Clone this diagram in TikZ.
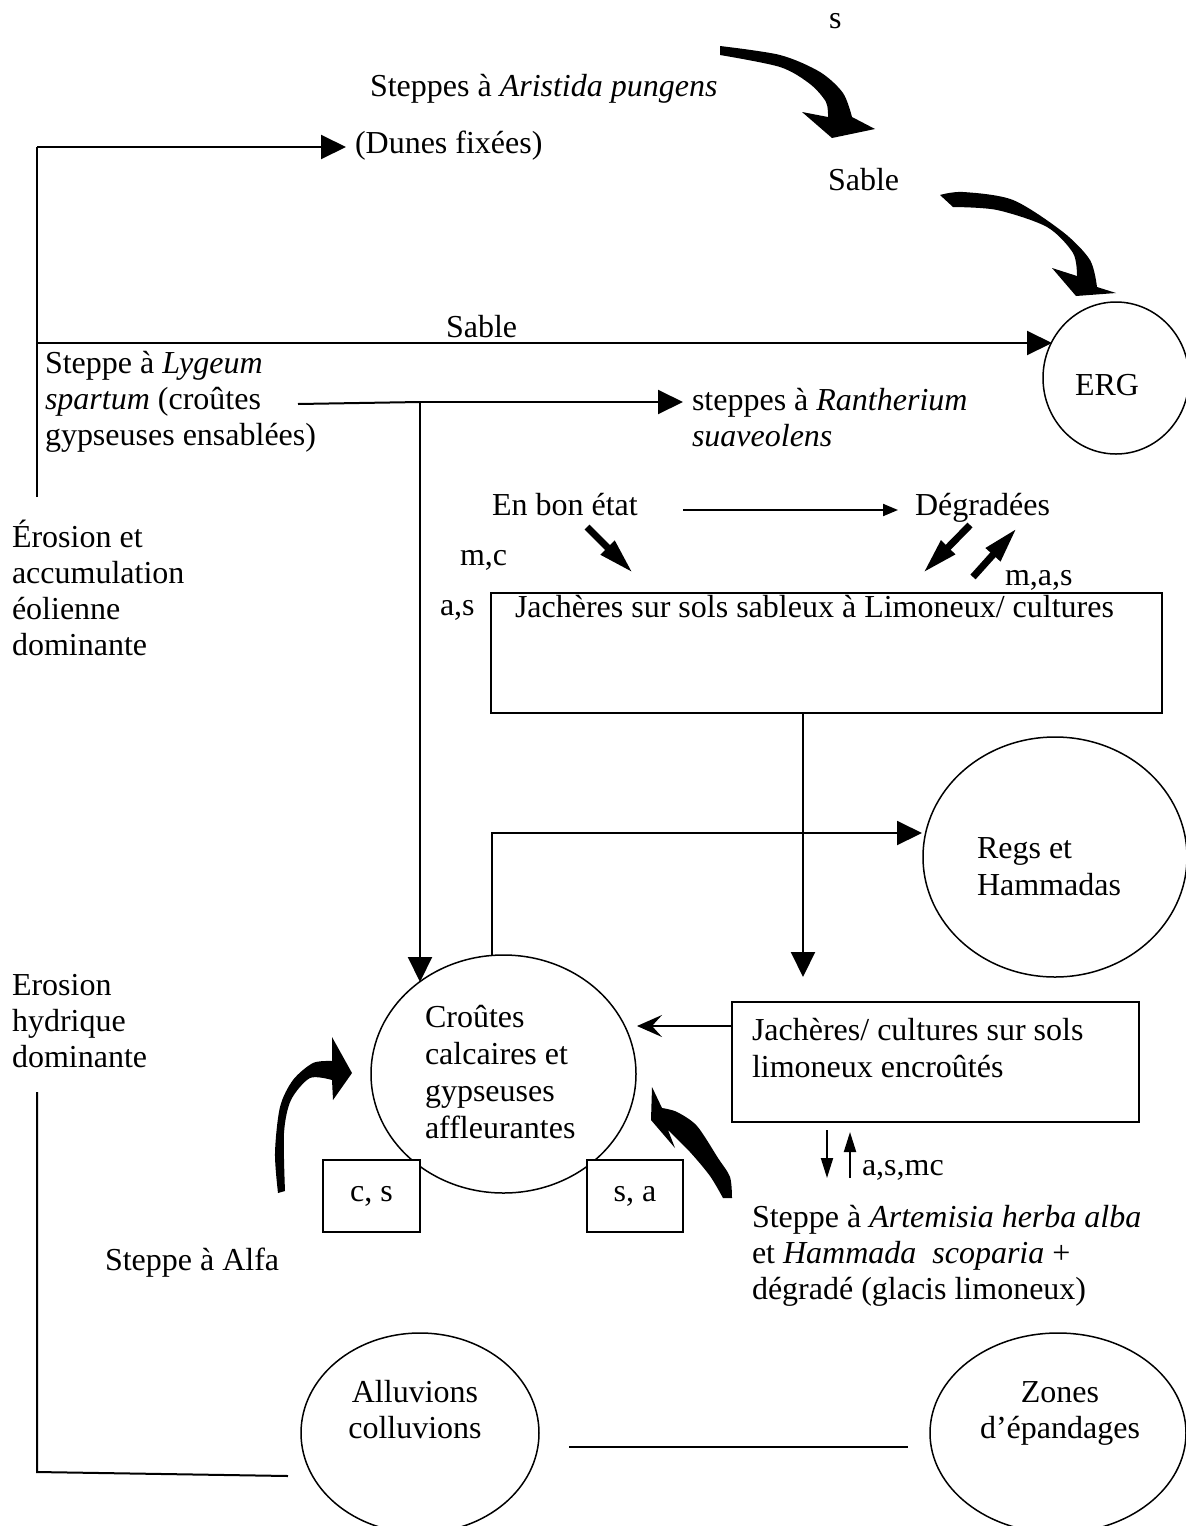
\documentclass[tikz,border=0pt]{standalone}
\usepackage{fontspec}
\setmainfont{Liberation Serif}
\usetikzlibrary{arrows.meta,shapes.geometric}
\begin{document}
\begin{tikzpicture}[x=0.5pt,y=-0.5pt,
  txt/.style={inner sep=0pt, outer sep=0pt, anchor=base west, align=left, font=\fontsize{16pt}{18pt}\selectfont},
  txtb/.style={txt, font=\fontsize{16pt}{18.5pt}\selectfont},
  ctxt/.style={txt, anchor=base, align=center, font=\fontsize{16pt}{18pt}\selectfont},
  conn/.style={line width=1pt, -{Triangle[length=12.5pt,width=12pt]}},
  lineonly/.style={line width=1pt},
  outl/.style={draw, line width=0.75pt, inner sep=0pt, outer sep=0pt},
  oval/.style={outl, ellipse},
  boxx/.style={outl, rectangle},
  fatarrow/.style={line width=3.5pt, -{Triangle[length=18pt,width=9pt]}},
  smallarrow/.style={line width=1pt, -{Triangle[length=10pt,width=6pt]}},
]
\useasboundingbox (0,0) rectangle (1185,1526);
\fill[white] (0,0) rectangle (1185,1526);

% ---------- shapes ----------
\node[oval, minimum width=73pt, minimum height=76pt] (erg) at (1116,378) {};
\node[oval, minimum width=132pt, minimum height=120pt] (regs) at (1055,857) {};
\node[oval, minimum width=132.5pt, minimum height=119pt] (croutes) at (503.5,1074) {};
\node[oval, minimum width=119pt, minimum height=100pt] (alluv) at (420,1433) {};
\node[oval, minimum width=128pt, minimum height=100pt] (zones) at (1058,1433) {};
\node[boxx, minimum width=335.5pt, minimum height=60pt] (box1) at (826.5,653) {};
\node[boxx, minimum width=203.5pt, minimum height=60pt] (box2) at (935.5,1062) {};
\node[boxx, fill=white, minimum width=48.5pt, minimum height=36pt, font=\fontsize{16pt}{18pt}\selectfont] (cs) at (371.5,1196) {c, s};
\node[boxx, fill=white, minimum width=48pt, minimum height=36pt, font=\fontsize{16pt}{18pt}\selectfont] (sa) at (635,1196) {s, a};

% ---------- texts (multi-line nodes anchored at the baseline of their last line) ----------
\node[txt] (ts) at (829,28) {s};
\node[txt] (arist) at (370,96) {Steppes à \textit{Aristida pungens}};
\node[txt] (dunes) at (355,153) {(Dunes fixées)};
\node[txt] (sable1) at (828,190) {Sable};
\node[txt] (sable2) at (446,337) {Sable};
\node[txt] (lygeum) at (45,445) {Steppe à \textit{Lygeum}\\\textit{spartum} (croûtes\\gypseuses ensablées)};
\node[txt] (ranth) at (692,446) {steppes à \textit{Rantherium}\\\textit{suaveolens}};
\node[txt] (ergt) at (1075,395) {ERG};
\node[txt] (eolien) at (12,655) {Érosion et\\accumulation\\éolienne\\dominante};
\node[txt] (bon) at (492,515) {En bon état};
\node[txt] (degr) at (915,515) {Dégradées};
\node[txt] (mc) at (460,565) {m,c};
\node[txt] (mas) at (1005,585) {m,a,s};
\node[txt] (as) at (440,615) {a,s};
\node[txt] (box1t) at (515,617) {Jachères sur sols sableux à Limoneux/ cultures};
\node[txtb] (regst) at (977,895) {Regs et\\Hammadas};
\node[txtb] (croutest) at (425,1138) {Croûtes\\calcaires et\\gypseuses\\affleurantes};
\node[txtb] (box2t) at (752,1077) {Jachères/ cultures sur sols\\limoneux encroûtés};
\node[txt] (asmc) at (862,1175) {a,s,mc};
\node[txt] (artem) at (752,1299) {Steppe à \textit{Artemisia herba alba}\\et \textit{Hammada}\ \ \textit{scoparia} +\\dégradé (glacis limoneux)};
\node[txt] (alfa) at (105,1270) {Steppe à Alfa};
\node[txt] (hydr) at (12,1067) {Erosion\\hydrique\\dominante};
\node[ctxt] (alluvt) at (415,1438) {Alluvions\\colluvions};
\node[ctxt] (zonest) at (1060,1438) {Zones\\d’épandages};

% ---------- connectors ----------
\coordinate (L0) at (37,497);
\coordinate (L1) at (37,147);
\coordinate (Ls) at (37,343);
\coordinate (J) at (420,402);
\draw[lineonly] (L0) -- (L1);
\draw[conn] (L1) -- (346,147);
\draw[conn] (Ls) -- (1052,343);
\draw[lineonly] (298,404) -- (J);
\draw[conn] (J) -- (683,402);
\draw[conn] (J) -- (420,982);
\draw[line width=1pt, -{Triangle[length=7.5pt,width=6pt]}] (683,510) -- (898,510);
\draw[fatarrow] (587,527) -- (633,573);
\draw[fatarrow] (970,525) -- (923,573);
\draw[fatarrow] (973,577) -- (1017,528);
\draw[conn] (803,713) -- (803,977);
\draw[conn] (492,955) |- (922,833);
\draw[line width=1pt, -{Stealth[length=12.5pt,width=11pt,inset=5pt]}] (732,1026) -- (637,1026);
\draw[smallarrow] (827,1130) -- (827,1178);
\draw[smallarrow] (850,1178) -- (850,1132);
\draw[lineonly] (37,1092) -- (37,1472) -- (288,1476);
\draw[lineonly] (569,1447) -- (908,1447);

% ---------- thick curved arrows ----------
\fill plot[smooth] coordinates {(720,46) (780,55) (820,72) (843,93) (852,117)}
  -- (875,129) -- (832,138) -- (802,112)
  -- plot[smooth] coordinates {(828,117) (826,102) (810,84) (780,67) (720,55)} -- cycle;
\fill plot[smooth] coordinates {(940,195) (963,192) (1013,200) (1063,232) (1090,260) (1097,287)}
  -- (1116,293) -- (1076,296) -- (1052,268)
  -- plot[smooth] coordinates {(1077,276) (1073,253) (1047,227) (997,210) (953,207)} -- cycle;
\fill plot[smooth] coordinates {(278,1193) (275,1153) (280,1107) (293,1080) (313,1063) (332,1061)}
  -- (332,1037) -- (352,1073) -- (333,1100)
  -- plot[smooth] coordinates {(332,1080) (310,1078) (291,1100) (284,1133) (285,1191)} -- cycle;
\fill plot[smooth] coordinates {(732,1198) (730,1177) (718,1158) (697,1126) (677,1112) (662,1108)}
  -- (652,1087) -- (651,1120) -- (675,1148)
  -- plot[smooth] coordinates {(668,1130) (690,1152) (710,1176) (723,1198)} -- cycle;
\end{tikzpicture}
\end{document}
